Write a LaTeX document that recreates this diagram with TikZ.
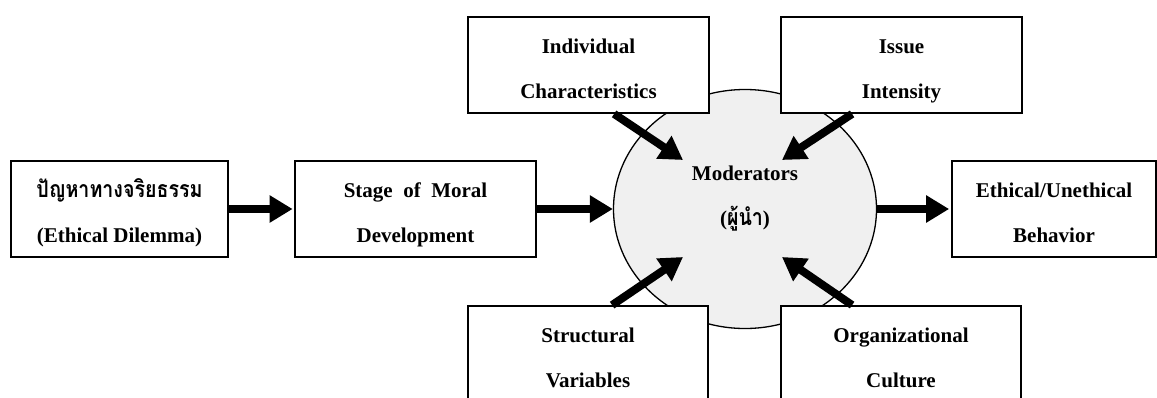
\documentclass[tikz,border=0pt]{standalone}
\usepackage{fontspec}
\setmainfont{Liberation Serif}
\newfontfamily\thaifont[Script=Thai,Scale=1.1,FakeStretch=0.85]{Loma}
\usetikzlibrary{arrows.meta,calc,shapes.geometric}
% struts that fix the vertical extent of two-line labels
\newcommand\topln{\rule{0pt}{30pt}}
\newcommand\botln{\rule[-9pt]{0pt}{9pt}}
\begin{document}
\begin{tikzpicture}[x=1pt,y=-1pt,
  lbl/.style={align=center,inner sep=0pt,font=\fontsize{21}{45}\selectfont\bfseries},
  box/.style={lbl,draw,line width=1.8pt,fill=white,minimum height=96pt},
  hub/.style={ellipse,draw,line width=1.3pt,fill=black!6,inner sep=0pt},
  flow/.style={line width=8pt,-{Triangle[length=23pt,width=26pt]}},
  ]
\clip (0,0) rectangle (1157,397);
\fill[white] (0,0) rectangle (1157,397);

% central moderators ellipse
\node[hub,minimum width=263pt,minimum height=239pt] (mod) at (745,209) {};
\node[lbl] (modtxt) at (745,192) {\topln Moderators\\({\thaifont ผู้นำ})\botln};

% boxes
\node[box,minimum width=217pt] (dil) at (119.5,209)
  {\topln{\thaifont ปัญหาทางจริยธรรม}\\(Ethical Dilemma)\botln};
\node[box,minimum width=241pt] (stage) at (415.5,209)
  {\topln Stage\ \ of\ \ Moral\\Development\botln};
\node[box,minimum width=241pt] (ind) at (588.5,65)
  {\topln Individual\\Characteristics\botln};
\node[box,minimum width=241pt] (iss) at (901.5,65)
  {\topln Issue\\Intensity\botln};
\node[box,minimum width=240pt] (str) at (588,354)
  {\topln Structural\\Variables\botln};
\node[box,minimum width=240pt] (org) at (901,354)
  {\topln Organizational\\Culture\botln};
\node[box,minimum width=204pt] (beh) at (1054,209)
  {\topln Ethical/Unethical\\Behavior\botln};

% arrow tips inside the ellipse
\coordinate (tipA) at (683,160);
\coordinate (tipB) at (782,160);
\coordinate (tipC) at (683,257);
\coordinate (tipD) at (782,257);

% main flow
\draw[flow,shorten >=1.5pt] (dil) -- (stage);
\draw[flow] (stage) -- (mod);
\draw[flow,shorten >=2pt] (mod) -- (beh);

% moderating influences
\draw[flow] ($(ind.south west)+(147,0)$) -- (tipA);
\draw[flow] ($(iss.south west)+(72,0)$) -- (tipB);
\draw[flow] ($(str.north west)+(145,0)$) -- (tipC);
\draw[flow] ($(org.north west)+(72,0)$) -- (tipD);
\end{tikzpicture}
\end{document}
